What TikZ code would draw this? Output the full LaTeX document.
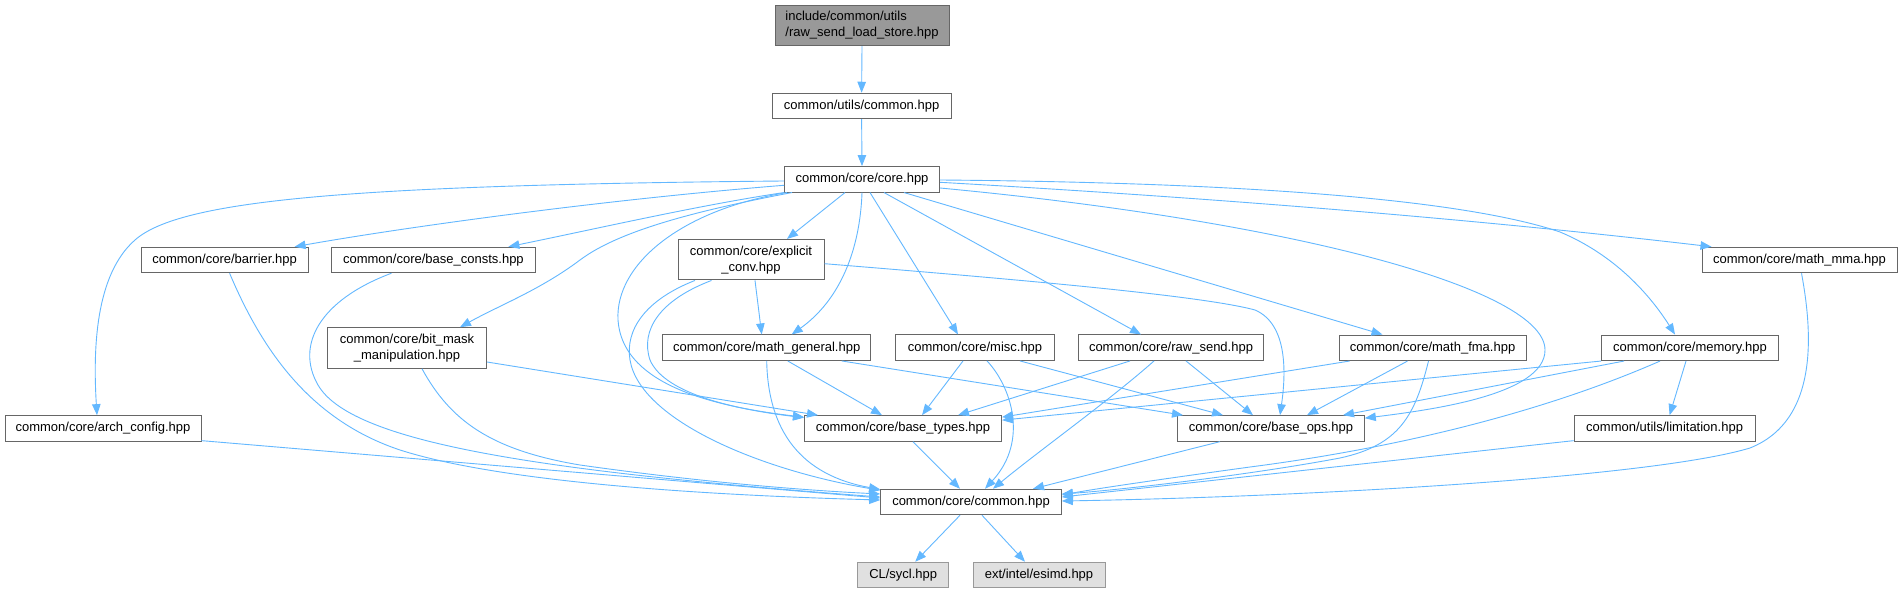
\documentclass[tikz,border=0pt]{standalone}
\usepackage{fontspec}
\setmainfont{Liberation Sans}
\usetikzlibrary{arrows.meta}
\definecolor{edgec}{HTML}{63B8FF}
\definecolor{bord}{HTML}{666666}
\definecolor{extfill}{HTML}{E0E0E0}
\definecolor{extbord}{HTML}{999999}
\definecolor{topfill}{HTML}{999999}
\begin{document}
\begin{tikzpicture}[x=1pt,y=-1pt,
  box/.style={draw=bord, fill=white, line width=1pt, inner sep=0pt, minimum height=25.5pt,
    font=\fontsize{13}{16}\selectfont, align=center},
  tall/.style={minimum height=40.5pt},
  extbox/.style={box, fill=extfill, draw=extbord},
  e/.style={draw=edgec, line width=0.9pt, -{Triangle[length=11pt,width=8.5pt]}},
]
\useasboundingbox (0,0) rectangle (1902,593);
\fill[white] (0,0) rectangle (1902,593);

% nodes
\node[box, tall, fill=topfill, align=left, minimum width=174pt] (top) at (862,25.3) {include/common/utils\\/raw\_send\_load\_store.hpp};
\node[box, minimum width=179pt] (utils) at (861.6,106) {common/utils/common.hpp};
\node[box, minimum width=155pt] (core) at (862,179.3) {common/core/core.hpp};
\node[box, minimum width=167pt] (barrier) at (224.6,260) {common/core/barrier.hpp};
\node[box, minimum width=204.5pt] (consts) at (433.4,260) {common/core/base\_consts.hpp};
\node[box, tall, minimum width=146pt] (explicit) at (751,259.7) {common/core/explicit\\\_conv.hpp};
\node[box, minimum width=195pt] (mma) at (1799.5,260) {common/core/math\_mma.hpp};
\node[box, tall, minimum width=159pt] (bitmask) at (407,348) {common/core/bit\_mask\\\_manipulation.hpp};
\node[box, minimum width=208.5pt] (mgen) at (766.7,347.7) {common/core/math\_general.hpp};
\node[box, minimum width=159pt] (misc) at (975,347.7) {common/core/misc.hpp};
\node[box, minimum width=185pt] (rawsend) at (1171,347.7) {common/core/raw\_send.hpp};
\node[box, minimum width=187pt] (fma) at (1432.5,347.8) {common/core/math\_fma.hpp};
\node[box, minimum width=177pt] (memory) at (1690,347.8) {common/core/memory.hpp};
\node[box, minimum width=196pt] (arch) at (103,428.4) {common/core/arch\_config.hpp};
\node[box, minimum width=197pt] (btypes) at (903,428.4) {common/core/base\_types.hpp};
\node[box, minimum width=186.6pt] (bops) at (1271,428.4) {common/core/base\_ops.hpp};
\node[box, minimum width=181pt] (limit) at (1664.6,428.4) {common/utils/limitation.hpp};
\node[box, minimum width=180.6pt] (common) at (971,502) {common/core/common.hpp};
\node[extbox, minimum width=91pt] (sycl) at (903.2,575) {CL/sycl.hpp};
\node[extbox, minimum width=132pt] (esimd) at (1039,575) {ext/intel/esimd.hpp};

% top chain
\draw[e] (top.south) -- (utils.north);
\draw[e] (utils.south) -- (core.north);

% from core
\draw[e] ([yshift=-1.7pt]core.west) .. controls (350,185) and (180,200) .. (135,240)
   .. controls (95,275) and (93,350) .. ([xshift=-6pt]arch.north);
\draw[e] ([yshift=-6pt]core.west) .. controls (600,200) and (400,228) .. ([xshift=70pt]barrier.north);
\draw[e] (core.south west) .. controls (700,205) and (600,228) .. ([xshift=75pt]consts.north);
\draw[e] ([xshift=8pt]core.south west) .. controls (700,210) and (620,230) .. (580,260)
   .. controls (540,290) and (500,305) .. ([xshift=53pt]bitmask.north);
\draw[e] ([xshift=-17pt]core.south) -- ([xshift=36pt]explicit.north);
\draw[e] (core.south) .. controls (860,250) and (840,300) .. ([xshift=25pt]mgen.north);
\draw[e] ([xshift=8pt]core.south) -- ([xshift=-17pt]misc.north);
\draw[e] ([xshift=22pt]core.south) -- ([xshift=-30pt]rawsend.north);
\draw[e] ([xshift=42pt]core.south) -- ([xshift=-50pt]fma.north);
\draw[e] ([yshift=-3pt]core.east) .. controls (1250,200) and (1500,222) .. ([xshift=-88pt]mma.north);
\draw[e] ([yshift=-0.7pt]core.east) .. controls (1300,183) and (1480,205) .. (1560,232)
   .. controls (1615,255) and (1650,295) .. ([xshift=-15pt]memory.north);
\draw[e] ([yshift=-8.7pt]core.east) .. controls (1300,222) and (1545,290) .. (1545,350)
   .. controls (1545,395) and (1430,410) .. ([yshift=-3pt]bops.north east);
\draw[e] ([xshift=3pt]core.south west) .. controls (680,210) and (615,265) .. (618,320)
   .. controls (622,380) and (700,405) .. ([yshift=-2pt]btypes.north west);

% from explicit_conv
\draw[e] ([xshift=4pt]explicit.south) -- ([xshift=-5pt]mgen.north);
\draw[e] ([xshift=-39.5pt]explicit.south) .. controls (660,300) and (640,330) .. (650,360)
   .. controls (665,395) and (740,410) .. ([yshift=-2.5pt]btypes.north west);
\draw[e] ([xshift=-56pt]explicit.south) .. controls (645,300) and (625,330) .. (630,360)
   .. controls (640,420) and (760,470) .. ([yshift=-1.5pt]common.north west);
\draw[e] ([yshift=-4pt]explicit.east) .. controls (1000,278) and (1200,295) .. (1255,310)
   .. controls (1290,325) and (1285,380) .. ([xshift=9pt]bops.north);

% left column to common
\draw[e] ([xshift=5pt]barrier.south) .. controls (262,350) and (310,420) .. (400,450)
   .. controls (500,482) and (700,495) .. ([yshift=2pt]common.west);
\draw[e] ([xshift=-42pt]consts.south) .. controls (320,300) and (295,345) .. (318,385)
   .. controls (350,440) and (520,470) .. ([yshift=5pt]common.west);
\draw[e] ([xshift=15pt]bitmask.south) .. controls (450,420) and (490,450) .. (580,465)
   .. controls (700,482) and (800,490) .. ([yshift=8pt]common.west);
\draw[e] ([yshift=-14pt]bitmask.east) -- ([xshift=14pt]btypes.north west);
\draw[e] ([yshift=1pt]arch.south east) -- ([yshift=4pt]common.west);

% math_general
\draw[e] ([xshift=21pt]mgen.south) -- ([xshift=-21pt]btypes.north);
\draw[e] ([xshift=75pt]mgen.south) -- ([xshift=-88pt]bops.north);
\draw[e] (mgen.south) .. controls (768,430) and (800,475) .. ([yshift=-0.7pt]common.north west);

% misc
\draw[e] ([xshift=-12pt]misc.south) -- ([xshift=19pt]btypes.north);
\draw[e] ([xshift=12pt]misc.south) .. controls (1010,385) and (1030,440) .. ([xshift=14pt]common.north);
\draw[e] ([xshift=45pt]misc.south) -- ([xshift=-48pt]bops.north);

% raw_send
\draw[e] ([xshift=-41pt]rawsend.south) -- ([xshift=55pt]btypes.north);
\draw[e] ([xshift=-17pt]rawsend.south) .. controls (1110,400) and (1040,450) .. ([xshift=22pt]common.north);
\draw[e] ([xshift=15pt]rawsend.south) -- ([xshift=-18pt]bops.north);

% math_fma
\draw[e] ([xshift=11pt]fma.south west) -- ([yshift=-2pt]btypes.north east);
\draw[e] ([xshift=-25pt]fma.south) -- ([xshift=36pt]bops.north);
\draw[e] ([xshift=-4pt]fma.south) .. controls (1415,415) and (1400,445) .. (1340,458)
   .. controls (1250,475) and (1120,490) .. ([yshift=8pt]common.east);

% memory
\draw[e] (memory.south west) -- ([yshift=-5pt]btypes.north east);
\draw[e] ([xshift=23pt]memory.south west) -- ([xshift=72pt]bops.north);
\draw[e] ([xshift=-30pt]memory.south) .. controls (1560,405) and (1420,445) .. (1250,467)
   .. controls (1170,478) and (1100,488) .. ([yshift=7pt]common.east);
\draw[e] ([xshift=-4pt]memory.south) -- ([xshift=5pt]limit.north);

% limitation, math_mma
\draw[e] ([yshift=1pt]limit.south west) -- ([yshift=5pt]common.east);
\draw[e] ([xshift=2pt]mma.south) .. controls (1812,330) and (1820,420) .. (1750,448)
   .. controls (1650,478) and (1300,497) .. ([yshift=1pt]common.east);

% into common from above
\draw[e] ([xshift=10pt]btypes.south) -- ([xshift=-11pt]common.north);
\draw[e] ([xshift=-51pt]bops.south) -- ([xshift=62pt]common.north);

% common out
\draw[e] ([xshift=-11pt]common.south) -- ([xshift=12pt]sycl.north);
\draw[e] ([xshift=11pt]common.south) -- ([xshift=-14pt]esimd.north);
\end{tikzpicture}
\end{document}
